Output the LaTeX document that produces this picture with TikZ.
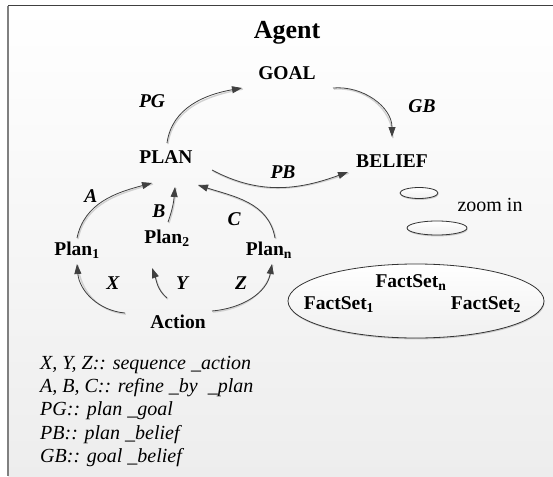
\documentclass[tikz,border=0pt]{standalone}
\usepackage{fontspec}
\setmainfont{Liberation Serif}
\usetikzlibrary{arrows.meta,shapes.geometric,shadows}
\begin{document}
\begin{tikzpicture}[x=1pt,y=-1pt,
  lbl/.style={font=\fontsize{19.5}{22}\selectfont\bfseries, inner sep=0pt, anchor=base},
  ilbl/.style={font=\fontsize{19.5}{22}\selectfont\bfseries\itshape, inner sep=0pt, anchor=base},
  leg/.style={font=\fontsize{20}{22}\selectfont\itshape, inner sep=0pt, anchor=base west},
  conn/.style={draw=black!75, line width=0.8pt, -{Triangle[length=10pt,width=7pt]},
    preaction={draw=black!18, line width=1.4pt, arrows=-, transform canvas={shift={(0.9pt,-1.1pt)}}}},
  ell/.style={ellipse, draw=black!80, line width=0.8pt, inner sep=0pt,
    top color=white, bottom color=black!6,
    drop shadow={shadow xshift=0.6pt, shadow yshift=-1.4pt, opacity=0.35}},
  ]
\useasboundingbox (0,0) rectangle (553,476);
% background and frame
\shade[top color=white, bottom color=black!7] (8,6) rectangle (553,476);
\draw[black!50, line width=1.5pt] (8,6) -- (8,476);
\draw[black!75, line width=1pt] (8,6) -- (553,6);

% title
\node[font=\fontsize{26}{30}\selectfont\bfseries, inner sep=0pt, anchor=base] (agent) at (287,39) {Agent};

% main nodes
\node[lbl] (goal) at (287,80) {GOAL};
\node[lbl] (plan) at (166,163) {PLAN};
\node[lbl] (belief) at (392,167) {BELIEF};
\node[lbl] (p1) at (77,255) {Plan\textsubscript{1}};
\node[lbl] (p2) at (167,243) {Plan\textsubscript{2}};
\node[lbl] (pn) at (269,255) {Plan\textsubscript{n}};
\node[lbl] (action) at (178,328) {Action};

% edge labels
\node[ilbl] (lPG) at (152,107) {PG};
\node[ilbl] (lGB) at (422,112) {GB};
\node[ilbl] (lPB) at (283,178) {PB};
\node[ilbl] (lA) at (91,202) {A};
\node[ilbl] (lB) at (159,217) {B};
\node[ilbl] (lC) at (234,225) {C};
\node[ilbl] (lX) at (113,289) {X};
\node[ilbl] (lY) at (182,289) {Y};
\node[ilbl] (lZ) at (241,289) {Z};

% zoom in ellipses
\node[ell, minimum width=38pt, minimum height=11pt] (z1) at (419,193) {};
\node[ell, minimum width=60pt, minimum height=14pt] (z2) at (437,228) {};
\node[font=\fontsize{20}{22}\selectfont, inner sep=0pt, anchor=base] (zoom) at (490,211) {zoom in};
\node[ell, minimum width=256pt, minimum height=74pt] (fs) at (416,301) {};
\node[lbl] (fsn) at (411,287) {FactSet\textsubscript{n}};
\node[lbl] (fs1) at (339,309) {FactSet\textsubscript{1}};
\node[lbl] (fs2) at (486,309) {FactSet\textsubscript{2}};

% connectors
\draw[conn] ([shift={(1,-20)}]plan.base) to[out=82,in=190] ([shift={(-45,8)}]goal.base);
\draw[conn] ([shift={(46,8)}]goal.base) to[out=5,in=90] ([shift={(0,-30)}]belief.base);
\draw[conn] ([shift={(46,7)}]plan.base) to[out=-28,in=200] ([shift={(-44,5)}]belief.base);
\draw[conn] ([shift={(0,-17)}]p1.base) to[out=78,in=195] ([shift={(-14,20)}]plan.base);
\draw[conn] ([shift={(1,-21)}]p2.base) to[out=70,in=-95] ([shift={(9,24)}]plan.base);
\draw[conn] ([shift={(6,-17)}]pn.base) to[out=100,in=-18] ([shift={(32,22)}]plan.base);
\draw[conn] ([shift={(-53,-15)}]action.base) to[out=175,in=-85] ([shift={(0,9)}]p1.base);
\draw[conn] ([shift={(-11,-30)}]action.base) to[out=140,in=-70] ([shift={(-15,25)}]p2.base);
\draw[conn] ([shift={(34,-17)}]action.base) to[out=5,in=-100] ([shift={(3,9)}]pn.base);

% legend
\node[leg] (leg1) at (40,369) {X, Y, Z:: sequence \_action};
\node[leg] (leg2) at (40,392) {A, B, C:: refine \_by\ \ \_plan};
\node[leg] (leg3) at (40,415.5) {PG:: plan \_goal};
\node[leg] (leg4) at (40,439) {PB:: plan \_belief};
\node[leg] (leg5) at (40,462) {GB:: goal \_belief};
\end{tikzpicture}
\end{document}
